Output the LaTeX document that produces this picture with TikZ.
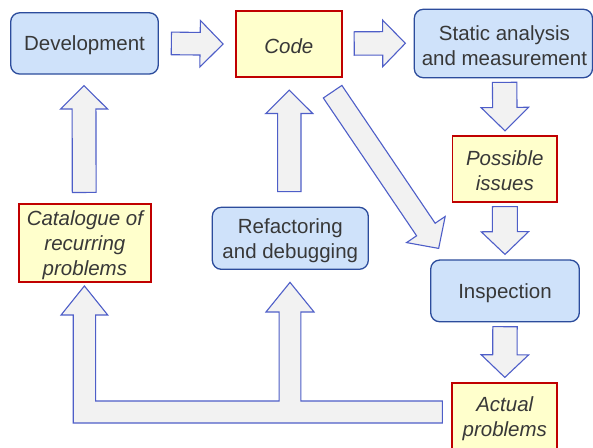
\documentclass[tikz,border=0pt]{standalone}
\usepackage{fontspec}
\setmainfont{Liberation Sans}
\usetikzlibrary{calc}
\definecolor{bfill}{HTML}{CFE2FA}
\definecolor{bline}{HTML}{2C4C9C}
\definecolor{yfill}{HTML}{FFFFCC}
\definecolor{rline}{HTML}{C00000}
\definecolor{afill}{HTML}{F2F2F2}
\definecolor{aline}{HTML}{4E5EC8}
\definecolor{txt}{HTML}{383838}
\newcommand\blockarr[5]{%
  \coordinate (ba-h) at ($(#2)!#5!(#1)$);
  \draw[barrow] ($(#1)!#3!90:(#2)$) -- ($(ba-h)!#3!90:(#2)$) -- ($(ba-h)!#4!90:(#2)$) -- (#2)
    -- ($(ba-h)!#4!-90:(#2)$) -- ($(ba-h)!#3!-90:(#2)$) -- ($(#1)!#3!-90:(#2)$) -- cycle;}
\begin{document}
\begin{tikzpicture}[x=1pt,y=-1pt,
 box/.style={inner sep=0pt},
 lab/.style={align=center, text=txt, font=\fontsize{20.5}{25}\selectfont, yshift=-2pt},
 ilab/.style={lab, font=\fontsize{20.5}{25}\selectfont\itshape},
 bluebox/.style={box, draw=bline, fill=bfill, line width=1.3pt, rounded corners=9pt},
 yelbox/.style={box, draw=rline, fill=yfill, line width=1.8pt},
 barrow/.style={draw=aline, fill=afill, line width=1.1pt, line join=miter}]
\clip (0,0) rectangle (593,447);
\fill[white] (0,0) rectangle (593,447);
% boxes
\node[bluebox, minimum width=147.6pt, minimum height=61.3pt, label={[lab]center:Development}] (dev) at (84.5,43.4) {};
\node[yelbox, minimum width=105.7pt, minimum height=66.6pt, label={[ilab]center:Code}] (code) at (288.85,44) {};
\node[bluebox, minimum width=178.2pt, minimum height=68.4pt, label={[lab, xshift=1pt]center:{Static analysis\\and measurement}}] (static) at (503.4,43.5) {};
\node[yelbox, minimum width=104.5pt, minimum height=65.7pt, label={[ilab]center:{Possible\\issues}}] (possible) at (504.8,168.9) {};
\node[bluebox, minimum width=148.6pt, minimum height=61.7pt, label={[lab]center:Inspection}] (insp) at (505,290.9) {};
\node[yelbox, minimum width=105pt, minimum height=66.4pt, label={[ilab]center:{Actual\\problems}}] (actual) at (504.8,416.5) {};
\node[yelbox, minimum width=132.3pt, minimum height=78.3pt, label={[ilab]center:{Catalogue of\\recurring\\problems}}] (cat) at (84.9,243.2) {};
\node[bluebox, minimum width=156pt, minimum height=62pt, label={[lab]center:{Refactoring\\and debugging}}] (ref) at (290.3,238.3) {};
% block arrows
\coordinate (a1s) at ($(dev.east)+(12.4,0)$);
\coordinate (a1t) at ($(code.west)+(-12,0)$);
\blockarr{a1s}{a1t}{11.3pt}{23.3pt}{23pt}
\coordinate (a2s) at ($(code.east)+(11.6,-0.5)$);
\coordinate (a2t) at ($(static.west)+(-8.3,-0.2)$);
\blockarr{a2s}{a2t}{11.7pt}{23.3pt}{22.7pt}
\coordinate (a3s) at ($(static.south)+(1.2,4)$);
\coordinate (a3t) at ($(possible.north)+(0.2,-4.3)$);
\blockarr{a3s}{a3t}{12.2pt}{23.7pt}{23.4pt}
\coordinate (a4s) at ($(possible.south)+(0,4)$);
\coordinate (a4t) at ($(insp.north)+(0,-5)$);
\blockarr{a4s}{a4t}{12.5pt}{23.7pt}{22.7pt}
\coordinate (a5s) at ($(insp.south)+(0,4.3)$);
\coordinate (a5t) at ($(actual.north)+(0,-5)$);
\blockarr{a5s}{a5t}{12.2pt}{23.7pt}{22.6pt}
\coordinate (a6s) at ($(cat.north)+(-0.7,-10.7)$);
\coordinate (a6t) at ($(dev.south)+(-0.5,11)$);
\blockarr{a6s}{a6t}{11.9pt}{23.5pt}{23.3pt}
\coordinate (a7s) at ($(ref.north)+(-1,-15)$);
\coordinate (a7t) at ($(code.south)+(0.4,12)$);
\blockarr{a7s}{a7t}{11.7pt}{23.5pt}{23.3pt}
\coordinate (a8s) at ($(code.south east)+(-10,13.5)$);
\coordinate (a8t) at ($(insp.north west)+(8.6,-11)$);
\blockarr{a8s}{a8t}{11.2pt}{23.3pt}{22.8pt}
% feedback arrow from actual problems
\coordinate (tipL) at ($(cat.south)+(-0.5,2.7)$);
\coordinate (tipM) at ($(ref.south)+(-0.3,12.4)$);
\coordinate (fbR) at ($(actual.west)+(-9,-4.5)$);
\draw[barrow] let \p1=(tipL), \p2=(tipM), \p3=(fbR) in
  (\x1-11.2pt,\y3-11pt) -- (\x1-11.2pt,\y1-29pt) -- (\x1-23.3pt,\y1-29pt) -- (\x1,\y1)
  -- (\x1+23.3pt,\y1-29pt) -- (\x1+11.2pt,\y1-29pt) -- (\x1+11.2pt,\y3+11pt)
  -- (\x2-10.9pt,\y3+11pt) -- (\x2-10.9pt,\y2-29.6pt) -- (\x2-24pt,\y2-29.6pt) -- (\x2,\y2)
  -- (\x2+24pt,\y2-29.6pt) -- (\x2+10.9pt,\y2-29.6pt) -- (\x2+10.9pt,\y3+11pt)
  -- (\x3,\y3+11pt) -- (\x3,\y3-11pt) -- cycle;
\end{tikzpicture}
\end{document}
